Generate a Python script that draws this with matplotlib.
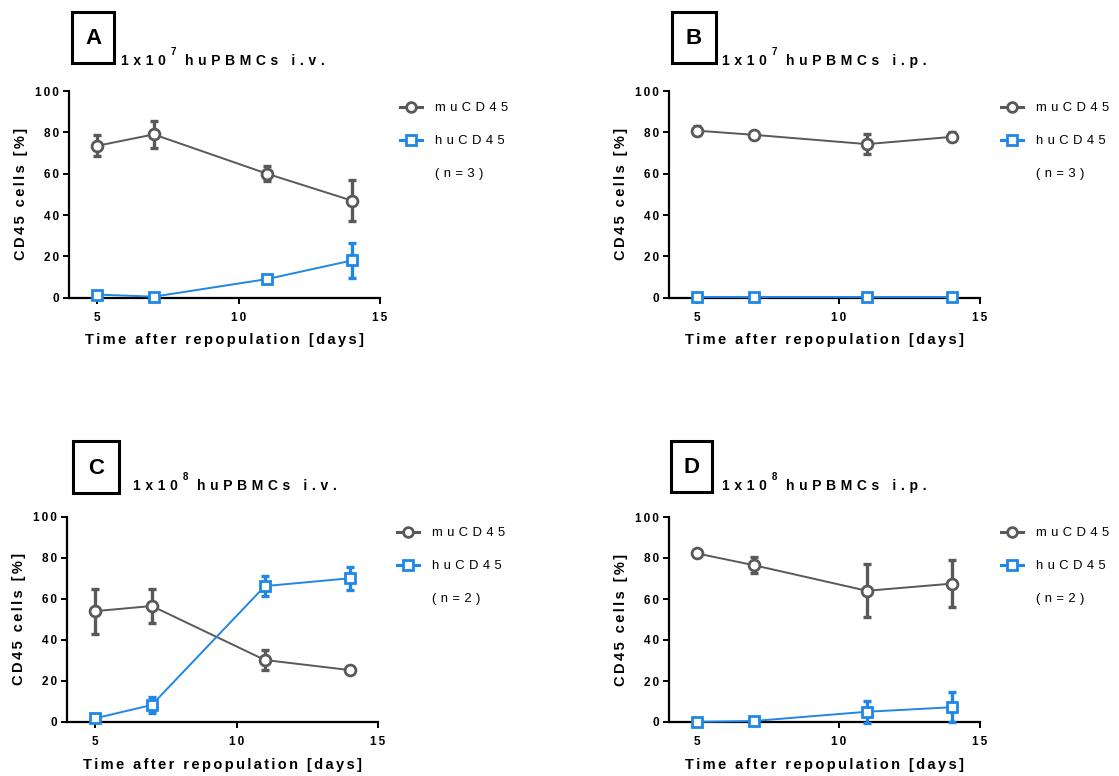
'''Four panels: mouse vs human CD45 cells after repopulation with huPBMCs
'''
import matplotlib
matplotlib.use("Agg")
import matplotlib.pyplot as plt
from matplotlib.lines import Line2D
from matplotlib.patches import Rectangle

plt.rcParams['font.family'] = ['Liberation Sans', 'DejaVu Sans']

days = [5, 7, 11, 14]

# panel A: 1x10^7 i.v.
a_mu = [73.5, 79, 60, 47]
a_mu_err = [5, 6.5, 3.5, 10]
a_hu = [1.5, 0.5, 9, 18]
a_hu_err = [1, 0.5, 1, 8.3]

# panel B: 1x10^7 i.p.
b_mu = [80.8, 78.8, 74.3, 77.8]
b_mu_err = [2.2, 1, 5, 2.2]
b_hu = [0.1, 0.1, 0.1, 0.1]
b_hu_err = [0, 0, 0, 0]

# panel C: 1x10^8 i.v.
c_mu = [54, 56.5, 30.2, 25.3]
c_mu_err = [11, 8.3, 4.7, 1]
c_hu = [1.8, 8.3, 66.2, 70]
c_hu_err = [1, 4, 5, 5.5]

# panel D: 1x10^8 i.p.
d_mu = [82.2, 76.5, 64, 67.5]
d_mu_err = [1, 4, 13, 11.3]
d_hu = [0.1, 0.5, 5, 7.2]
d_hu_err = [0.3, 0.5, 5.3, 7.3]

letters = ['A', 'B', 'C', 'D']
powers = ['7', '7', '8', '8']
routes = ['huPBMCs i.v.', 'huPBMCs i.p.', 'huPBMCs i.v.', 'huPBMCs i.p.']
n_text = ['(n=3)', '(n=3)', '(n=2)', '(n=2)']
series_labels = ['muCD45', 'huCD45']
yticks = [0, 20, 40, 60, 80, 100]
xticks = [5, 10, 15]

GREY = '#595959'
BLUE = '#1f87e5'

W, H = 1119, 776
T_WIDE = '\u2004'   # three-per-em space, titles / legend
T_NARROW = '\u2006' # six-per-em space, axis labels and ticks


def sp(s, gap):
    return gap.join(s)


fig = plt.figure(figsize=(W / 100, H / 100), dpi=100)
renderer = fig.canvas.get_renderer()

# pixel layout: axes (l, t, r, b), box (l, t, r, b), title start, legend anchor
layout = [
    dict(ax=(69, 91, 380, 297.7), box=(72, 12, 114, 63), title=(121, 65), leg=(400, 102)),
    dict(ax=(669, 91, 980, 297.7), box=(672, 12, 716, 63), title=(722, 65), leg=(1001, 102)),
    dict(ax=(67, 516.7, 378, 722), box=(73, 441, 119, 493), title=(133, 490), leg=(397, 527)),
    dict(ax=(669, 517, 980, 722), box=(671, 441, 712, 492), title=(722, 490), leg=(1001, 527)),
]

data = [
    (a_mu, a_mu_err, a_hu, a_hu_err),
    (b_mu, b_mu_err, b_hu, b_hu_err),
    (c_mu, c_mu_err, c_hu, c_hu_err),
    (d_mu, d_mu_err, d_hu, d_hu_err),
]

for i, lay in enumerate(layout):
    l, t, r, b = lay['ax']
    ax = fig.add_axes([l / W, 1 - b / H, (r - l) / W, (b - t) / H])
    mu, mu_err, hu, hu_err = data[i]

    ax.errorbar(days, mu, yerr=mu_err, fmt='none', ecolor=GREY, elinewidth=2.4,
                capsize=3, capthick=2.4, zorder=2, clip_on=False)
    ax.errorbar(days, hu, yerr=hu_err, fmt='none', ecolor=BLUE, elinewidth=2.4,
                capsize=3, capthick=2.4, zorder=4, clip_on=False)
    ax.plot(days, mu, color=GREY, lw=1.4, marker='o', ms=7.8, mew=2,
            mfc='white', mec=GREY, zorder=3, clip_on=False)
    ax.plot(days, hu, color=BLUE, lw=1.4, marker='s', ms=7.2, mew=2,
            mfc='white', mec=BLUE, zorder=5, clip_on=False)

    ax.set_xlim(4, 15)
    ax.set_ylim(0, 100)
    ax.set_xticks(xticks, labels=[sp(str(v), T_NARROW) for v in xticks])
    ax.set_yticks(yticks, labels=[sp(str(v), T_NARROW) for v in yticks])
    for s in ['top', 'right']:
        ax.spines[s].set_visible(False)
    for s in ['left', 'bottom']:
        ax.spines[s].set_linewidth(1.6)
    ax.tick_params(width=1.4, length=4, labelsize=8.5)
    ax.tick_params(axis='x', pad=6)
    ax.tick_params(axis='y', pad=3)
    for lab in ax.get_xticklabels() + ax.get_yticklabels():
        lab.set_fontweight('bold')
    ax.set_xlabel(sp('Time after repopulation [days]', T_NARROW), fontsize=10.5,
                  fontweight='bold', labelpad=7)
    ax.set_ylabel(sp('CD45 cells [%]', T_NARROW), fontsize=10.5,
                  fontweight='bold', labelpad=5)

    # legend
    handles = [
        Line2D([], [], color=GREY, lw=2.2, marker='o', ms=7, mew=2, mfc='white', mec=GREY),
        Line2D([], [], color=BLUE, lw=2.2, marker='s', ms=6.5, mew=2, mfc='white', mec=BLUE),
        Line2D([], [], color='none'),
    ]
    labels = [sp(s, T_WIDE) for s in series_labels] + [sp(n_text[i], T_WIDE)]
    lx, ly = lay['leg']
    fig.legend(handles, labels, loc='upper left', bbox_to_anchor=(lx / W, 1 - ly / H),
               frameon=False, fontsize=9.4, handlelength=1.7, handletextpad=1.0,
               labelspacing=1.6, borderpad=0, borderaxespad=0)

    # boxed panel letter
    bl, bt, br, bb = lay['box']
    fig.patches.append(Rectangle((bl / W, 1 - bb / H), (br - bl) / W, (bb - bt) / H,
                                 transform=fig.transFigure, fill=False, lw=2.2,
                                 edgecolor='black'))
    fig.text((bl + br) / 2 / W, 1 - ((bt + bb) / 2 + 1) / H, letters[i], fontsize=16,
             fontweight='bold', ha='center', va='center')

    # title: 1x10^n huPBMCs ...
    tx, ty = lay['title']
    t1 = fig.text(tx / W, 1 - ty / H, sp('1x10', T_WIDE), fontsize=10,
                  fontweight='bold', va='baseline')
    e1 = t1.get_window_extent(renderer)
    t2 = fig.text((e1.x1 + 5) / W, 1 - (ty - 10) / H, powers[i], fontsize=7,
                  fontweight='bold', va='baseline')
    e2 = t2.get_window_extent(renderer)
    fig.text((e2.x1 + 9) / W, 1 - ty / H, sp(routes[i], T_WIDE), fontsize=10,
             fontweight='bold', va='baseline')

fig.savefig('out.png', dpi=100)
